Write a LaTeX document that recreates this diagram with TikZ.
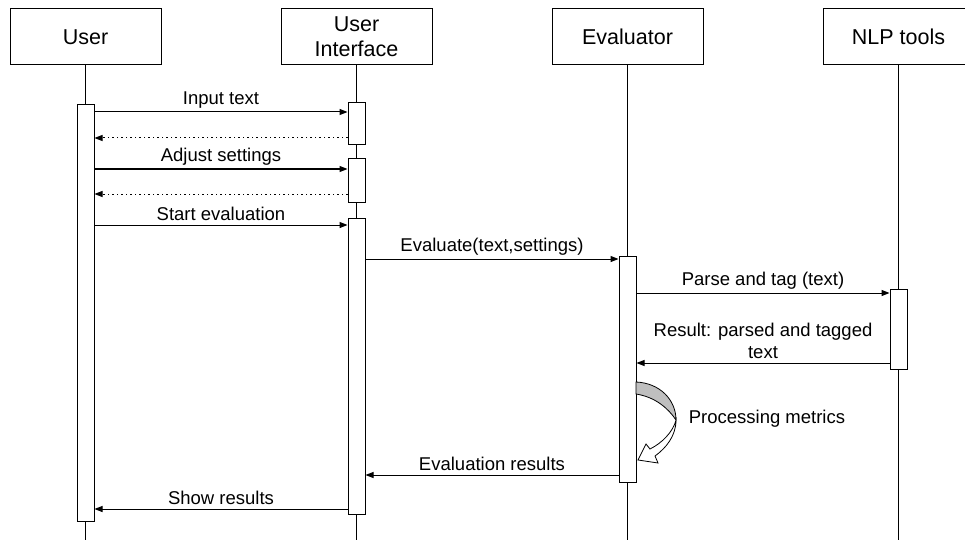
\documentclass[tikz,border=0pt]{standalone}
\usepackage{fontspec}
\setmainfont{Liberation Sans}
\usetikzlibrary{arrows.meta}

\tikzset{
  actor/.style={draw, minimum width=151pt, minimum height=56pt, align=center,
    font=\fontsize{21.5}{25}\selectfont},
  activation/.style={draw, fill=white, minimum width=17pt, inner sep=0pt},
  msg/.style={-{Triangle[length=8pt,width=6pt]}},
  reply/.style={msg, dash pattern=on 1.5pt off 3pt},
  lbl/.style={font=\fontsize{18.5}{22}\selectfont, align=center}
}

\begin{document}
\begin{tikzpicture}[x=1pt, y=-1pt, line width=1pt]
    \useasboundingbox (0,0) rectangle (965,540);

    % the participants
    \node[actor] (user) at (85.5,37) {User};
    \node[actor] (ui) at (356.5,37) {User\\Interface};
    \node[actor] (eval) at (627.5,37) {Evaluator};
    \node[actor] (nlp) at (898.5,37) {NLP tools};

    % the lifelines (free ends at the bottom)
    \coordinate (userend) at (85.5,540);
    \coordinate (uiend) at (356.5,540);
    \coordinate (evalend) at (627.5,540);
    \coordinate (nlpend) at (898.5,540);
    \draw (user) -- (userend);
    \draw (ui) -- (uiend);
    \draw (eval) -- (evalend);
    \draw (nlp) -- (nlpend);

    % the activation bars
    \node[activation, minimum height=416pt] (ua) at (85.5,313) {};
    \node[activation, minimum height=42pt] (ui1) at (356.5,124) {};
    \node[activation, minimum height=43pt] (ui2) at (356.5,180.5) {};
    \node[activation, minimum height=296pt] (ui3) at (356.5,366) {};
    \node[activation, minimum height=226pt] (ea) at (627.5,369) {};
    \node[activation, minimum height=80pt] (na) at (898.5,329) {};

    % the messages
    \draw[msg] (ua.east |- 0,112) -- node[lbl, above] {Input text} (ui1.west |- 0,112);
    \draw[reply] (ui1.west |- 0,138) -- (ua.east |- 0,138);
    \draw[msg] (ua.east |- 0,169) -- node[lbl, above] {Adjust settings} (ui2.west |- 0,169);
    \draw[reply] (ui2.west |- 0,194) -- (ua.east |- 0,194);
    \draw[msg] (ua.east |- 0,225) -- node[lbl, above] {Start evaluation} (ui3.west |- 0,225);
    \draw[msg] (ui3.east |- 0,259) -- node[lbl, above] {Evaluate(text,settings)} (ea.west |- 0,259);
    \draw[msg] (ea.east |- 0,293) -- node[lbl, above] {Parse and tag (text)} (na.west |- 0,293);
    \draw[msg] (na.west |- 0,363) -- node[lbl, above] {Result: parsed and tagged\\text} (ea.east |- 0,363);
    \draw[msg] (ea.west |- 0,475) -- node[lbl, above] {Evaluation results} (ui3.east |- 0,475);
    \draw[msg] (ui3.west |- 0,509) -- node[lbl, above] {Show results} (ua.east |- 0,509);

    % the self call on the evaluator
    \filldraw[fill=black!25, line width=0.8pt] (636,382) .. controls (660,383) and (676,400) .. (676,420)
        .. controls (668,408) and (655,397) .. (636,394) -- cycle;
    \filldraw[fill=white, line width=0.8pt] (676,420) .. controls (676,436) and (666,448) .. (655,456)
        -- (658,463) -- (638,460) -- (646,444) -- (650,449)
        .. controls (662,443) and (673,432) .. (676,420) -- cycle;
    \node[lbl, anchor=west] (procmetrics) at (685,419) {Processing metrics};

\end{tikzpicture}
\end{document}
